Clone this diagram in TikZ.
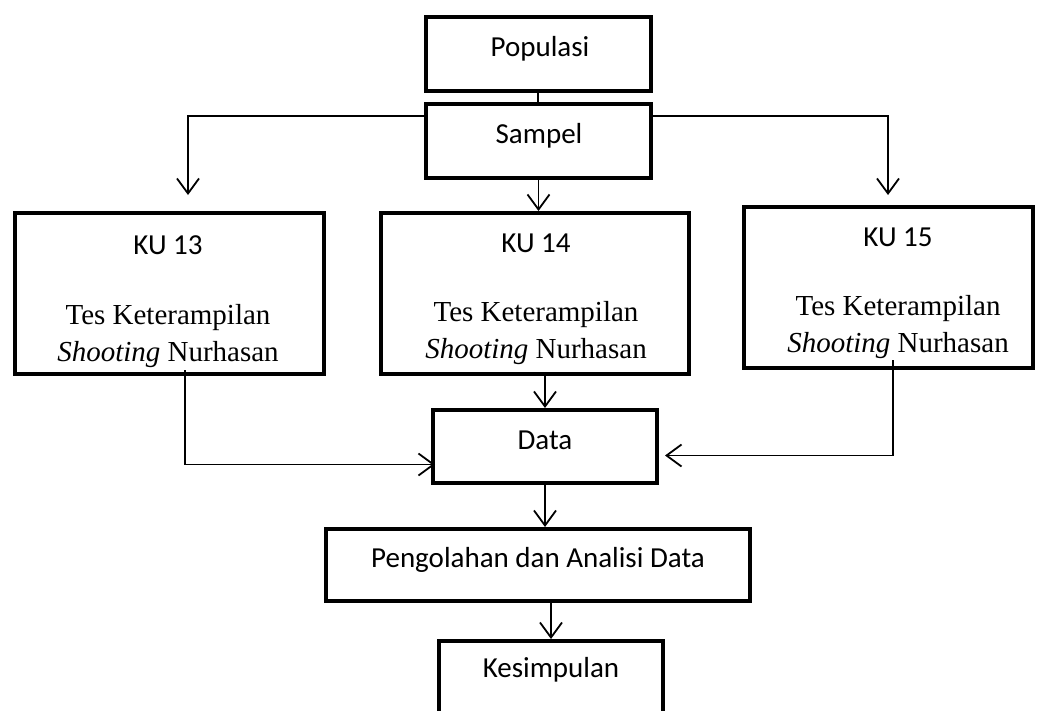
\documentclass[tikz,border=0pt]{standalone}
\usepackage{fontspec}
\setmainfont{Liberation Serif}
\newfontfamily\calibri{Carlito}
\usetikzlibrary{arrows.meta}

\begin{document}
\begin{tikzpicture}[x=1pt,y=-1pt,
	box/.style={draw=black, line width=4pt, inner sep=0pt},
	lbl/.style={font=\calibri\fontsize{29}{34}\selectfont},
	body/.style={font=\fontsize{29}{37}\selectfont, align=center},
	arr/.style={line width=1.8pt, -{Straight Barb[length=15pt,width=22pt,line width=1.8pt]}}]
	\useasboundingbox (0,0) rectangle (1043,710);
	
	%boxes
	\node[box, minimum width=225pt, minimum height=74pt] (pop)  at (538.5,54) {};
	\node[box, minimum width=225pt, minimum height=74pt] (samp) at (538.5,141) {};
	\node[box, minimum width=309pt, minimum height=161pt] (ku13) at (169.5,293.5) {};
	\node[box, minimum width=308pt, minimum height=161pt] (ku14) at (535,293.5) {};
	\node[box, minimum width=289pt, minimum height=161pt] (ku15) at (888.5,287.5) {};
	\node[box, minimum width=224pt, minimum height=73pt] (data) at (545,446.5) {};
	\node[box, minimum width=424pt, minimum height=72pt] (olah) at (538,565) {};
	\node[box, minimum width=224pt, minimum height=86pt] (kes)  at (551,684) {};
	
	%labels
	\node[lbl] (poptxt)  at (540,49)  {Populasi};
	\node[lbl] (samptxt) at (539,136) {Sampel};
	\node[lbl] (t13)     at (168,245) {KU 13};
	\node[lbl] (t14)     at (536,243) {KU 14};
	\node[lbl] (t15)     at (898,237) {KU 15};
	\node[body] (b13)    at (168,336) {Tes Keterampilan\\\textit{Shooting} Nurhasan};
	\node[body] (b14)    at (536,333) {Tes Keterampilan\\\textit{Shooting} Nurhasan};
	\node[body] (b15)    at (898,327) {Tes Keterampilan\\\textit{Shooting} Nurhasan};
	\node[lbl] (datatxt) at (545,440) {Data};
	\node[lbl] (olahtxt) at (538,560) {Pengolahan dan Analisi Data};
	\node[lbl] (kestxt)  at (551,670) {Kesimpulan};
	
	%free ends
	\coordinate (a13) at (188,195);
	\coordinate (a15) at (888,195);
	\coordinate (s13) at (185,370);
	\coordinate (s15) at (893,360);
	
	%connectors
	\draw[line width=1.8pt] (pop.south -| 538,0) -- (samp.north -| 538,0);
	\draw[arr] ([yshift=25pt]samp.west) -| (a13);
	\draw[arr] ([yshift=25pt]samp.east) -| (a15);
	\draw[arr] (samp.south) -- (samp.south |- ku14.north);
	\draw[arr] (data.north |- ku14.south) -- (data.north);
	\draw[arr] (s13) |- ([yshift=-18pt,xshift=4pt]data.west);
	\draw[arr] (s15) |- ([yshift=-9pt,xshift=6pt]data.east);
	\draw[arr] (data.south) -- (data.south |- olah.north);
	\draw[arr] (olah.south -| kes.north) -- (kes.north);
\end{tikzpicture}
\end{document}
